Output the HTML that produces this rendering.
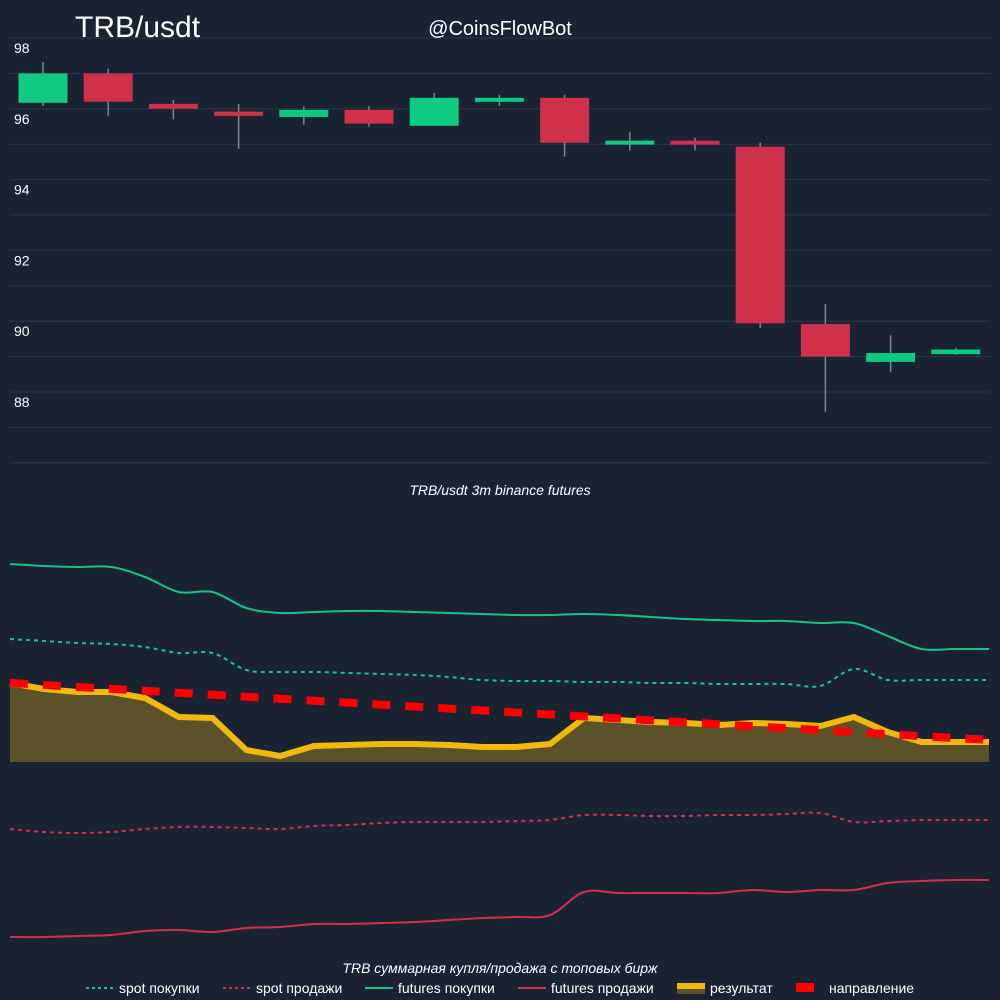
<!DOCTYPE html>
<html><head><meta charset="utf-8">
<style>
html,body{margin:0;padding:0;background:#1a2332;}
svg{display:block;font-family:"Liberation Sans","Noto Sans CJK SC",sans-serif;}
</style></head>
<body>
<svg id="c" width="1000" height="1000" viewBox="0 0 1000 1000">
<rect width="1000" height="1000" fill="#1a2332"/>
<g id="grid"></g>
<g id="candles"></g>
<g id="lower"></g>
<text x="75" y="37" font-size="30" fill="#ffffff">TRB/usdt</text>
<text x="500" y="35" font-size="20" fill="#ffffff" text-anchor="middle">@CoinsFlowBot</text>
<text x="500" y="495" font-size="14" font-style="italic" fill="#ffffff" text-anchor="middle">TRB/usdt 3m binance futures</text>
<text x="500" y="973" font-size="14" font-style="italic" fill="#ffffff" text-anchor="middle">TRB суммарная купля/продажа с топовых бирж</text>
<g font-size="14" fill="#ffffff">
 <g><line x1="86" y1="988" x2="114" y2="988" stroke="#16c784" stroke-width="2" stroke-dasharray="3,3"/><text x="119" y="993">spot покупки</text></g>
 <g><line x1="223" y1="988" x2="251" y2="988" stroke="#cf304a" stroke-width="2" stroke-dasharray="3,3"/><text x="256" y="993">spot продажи</text></g>
 <g><line x1="365" y1="988" x2="393" y2="988" stroke="#16c784" stroke-width="2"/><text x="398" y="993">futures покупки</text></g>
 <g><line x1="518" y1="988" x2="546" y2="988" stroke="#cf304a" stroke-width="2"/><text x="551" y="993">futures продажи</text></g>
 <g><rect x="677" y="983" width="28" height="6" fill="#f0b90b"/><rect x="677" y="989" width="28" height="5" fill="#5b5229"/><text x="710" y="993">результат</text></g>
 <g><rect x="796" y="983" width="18" height="9" fill="#ff0000"/><text x="829" y="993">направление</text></g>
</g>
</svg>
<script>
// price chart data
const opens  = [96.17, 97.0, 96.14, 95.92, 95.77, 95.97, 95.52, 96.2, 96.31, 94.99, 95.1, 94.93, 89.92, 88.85, 89.07];
const closes = [97.0, 96.2, 96.0, 95.8, 95.97, 95.58, 96.31, 96.31, 95.04, 95.1, 94.99, 89.94, 89.0, 89.1, 89.2];
const highs  = [97.32, 97.13, 96.25, 96.14, 96.06, 96.08, 96.45, 96.39, 96.39, 95.35, 95.18, 95.04, 90.48, 89.6, 89.24];
const lows   = [96.08, 95.8, 95.7, 94.87, 95.55, 95.5, 95.52, 96.08, 94.65, 94.82, 94.82, 89.8, 87.44, 88.56, 89.05];
const priceTicks = [98, 96, 94, 92, 90, 88];
const gridLevels = [98, 97, 96, 95, 94, 93, 92, 91, 90, 89, 88, 87, 86];

// flow chart data (buy positive, sell negative)
const futuresBuy  = [198,196,195,195,185,170,170,154,149,150,151,151,150,149,148,147,147,148,147,145,143,142,141,141,139,139,126,113,113,113];
const spotBuy     = [123,121,119,118,115,109,109,92,90,90,89,88,87,85,82,81,81,80,80,79,79,78,78,78,76,93,82,82,82,82];
const resultVals  = [79,73,70,70,64,45,44,12,6,16,17,18,18,17,15,15,18,44,42,40,39,37,39,38,36,45,30,20,20,20];
const directionVals = [79, 22];
const spotSell    = [-67,-70,-71,-70,-67,-65,-65,-66,-67,-64,-63,-61,-60,-60,-60,-59,-58,-53,-53,-54,-54,-53,-53,-52,-51,-60,-59,-58,-58,-58];
const futuresSell = [-175,-175,-174,-173,-169,-168,-170,-166,-165,-162,-162,-161,-160,-158,-156,-155,-153,-130,-131,-131,-131,-131,-128,-130,-128,-128,-121,-119,-118,-118];

const NS = "http://www.w3.org/2000/svg";
function mk(tag, attrs, parent){const e=document.createElementNS(NS,tag);for(const k in attrs)e.setAttribute(k,attrs[k]);parent.appendChild(e);return e;}

// price axes
const pY = v => 38 + (98 - v) * 35.4;
const pX = i => 43 + i * 65.2;
const grid = document.getElementById('grid');
gridLevels.forEach(v => {
  const l = mk('line', {x1:10, x2:990, y1:pY(v), y2:pY(v), stroke:'#2b3646', 'stroke-width':1}, grid);
  
  
});
priceTicks.forEach(v => {
  const t = mk('text', {x:14, y:pY(v)+15, 'font-size':14, fill:'#ffffff'}, grid);
  t.textContent = v;
  
  
});
const cg = document.getElementById('candles');
opens.forEach((o, i) => {
  const c = closes[i], up = c >= o, x = pX(i);
  const g = mk('g', {}, cg);
  
  
  mk('line', {x1:x, x2:x, y1:pY(highs[i]), y2:pY(lows[i]), stroke:'#7b8594', 'stroke-width':1.5}, g);
  const top = pY(Math.max(o, c)), bot = pY(Math.min(o, c));
  mk('rect', {x:x-24.5, y:top, width:49, height:Math.max(bot-top, 4), fill: up ? '#0ecb81' : '#cf304a'}, g);
});

// flow axes
const fX = i => 10 + i * (979 / 29);
const fY = v => 762 - v;
function smoothPath(vals){
  const p = vals.map((v,i)=>[fX(i), fY(v)]);
  let d = `M${p[0][0]},${p[0][1]}`;
  for (let i=0;i<p.length-1;i++){
    const p0=p[Math.max(i-1,0)], p1=p[i], p2=p[i+1], p3=p[Math.min(i+2,p.length-1)];
    const c1=[p1[0]+(p2[0]-p0[0])/6, p1[1]+(p2[1]-p0[1])/6];
    const c2=[p2[0]-(p3[0]-p1[0])/6, p2[1]-(p3[1]-p1[1])/6];
    d += ` C${c1[0]},${c1[1]} ${c2[0]},${c2[1]} ${p2[0]},${p2[1]}`;
  }
  return d;
}
const lg = document.getElementById('lower');
const area = mk('path', {d: 'M'+fX(0)+','+fY(0)+' '+resultVals.map((v,i)=>'L'+fX(i)+','+fY(v)).join(' ')+' L'+fX(resultVals.length-1)+','+fY(0)+'Z', fill:'#5b5229'}, lg);


const rl = mk('polyline', {points: resultVals.map((v,i)=>fX(i)+','+fY(v)).join(' '), fill:'none', stroke:'#f0b90b', 'stroke-width':6, 'stroke-linejoin':'miter'}, lg);


const dl = mk('line', {x1:fX(0), y1:fY(directionVals[0]), x2:fX(29), y2:fY(directionVals[1]), stroke:'#ff0000', 'stroke-width':8, 'stroke-dasharray':'18,15'}, lg);


const series = [
  [futuresBuy, '#16c784', null, 'futures-buy-line'],
  [spotBuy, '#16c784', '4,4', 'spot-buy-line'],
  [spotSell, '#cf304a', '4,4', 'spot-sell-line'],
  [futuresSell, '#cf304a', null, 'futures-sell-line']
];
series.forEach(s => {
  const a = {d: smoothPath(s[0]), fill:'none', stroke:s[1], 'stroke-width':2};
  if (s[2]) a['stroke-dasharray'] = s[2];
  const p = mk('path', a, lg);
  
  
});
</script>
</body></html>
